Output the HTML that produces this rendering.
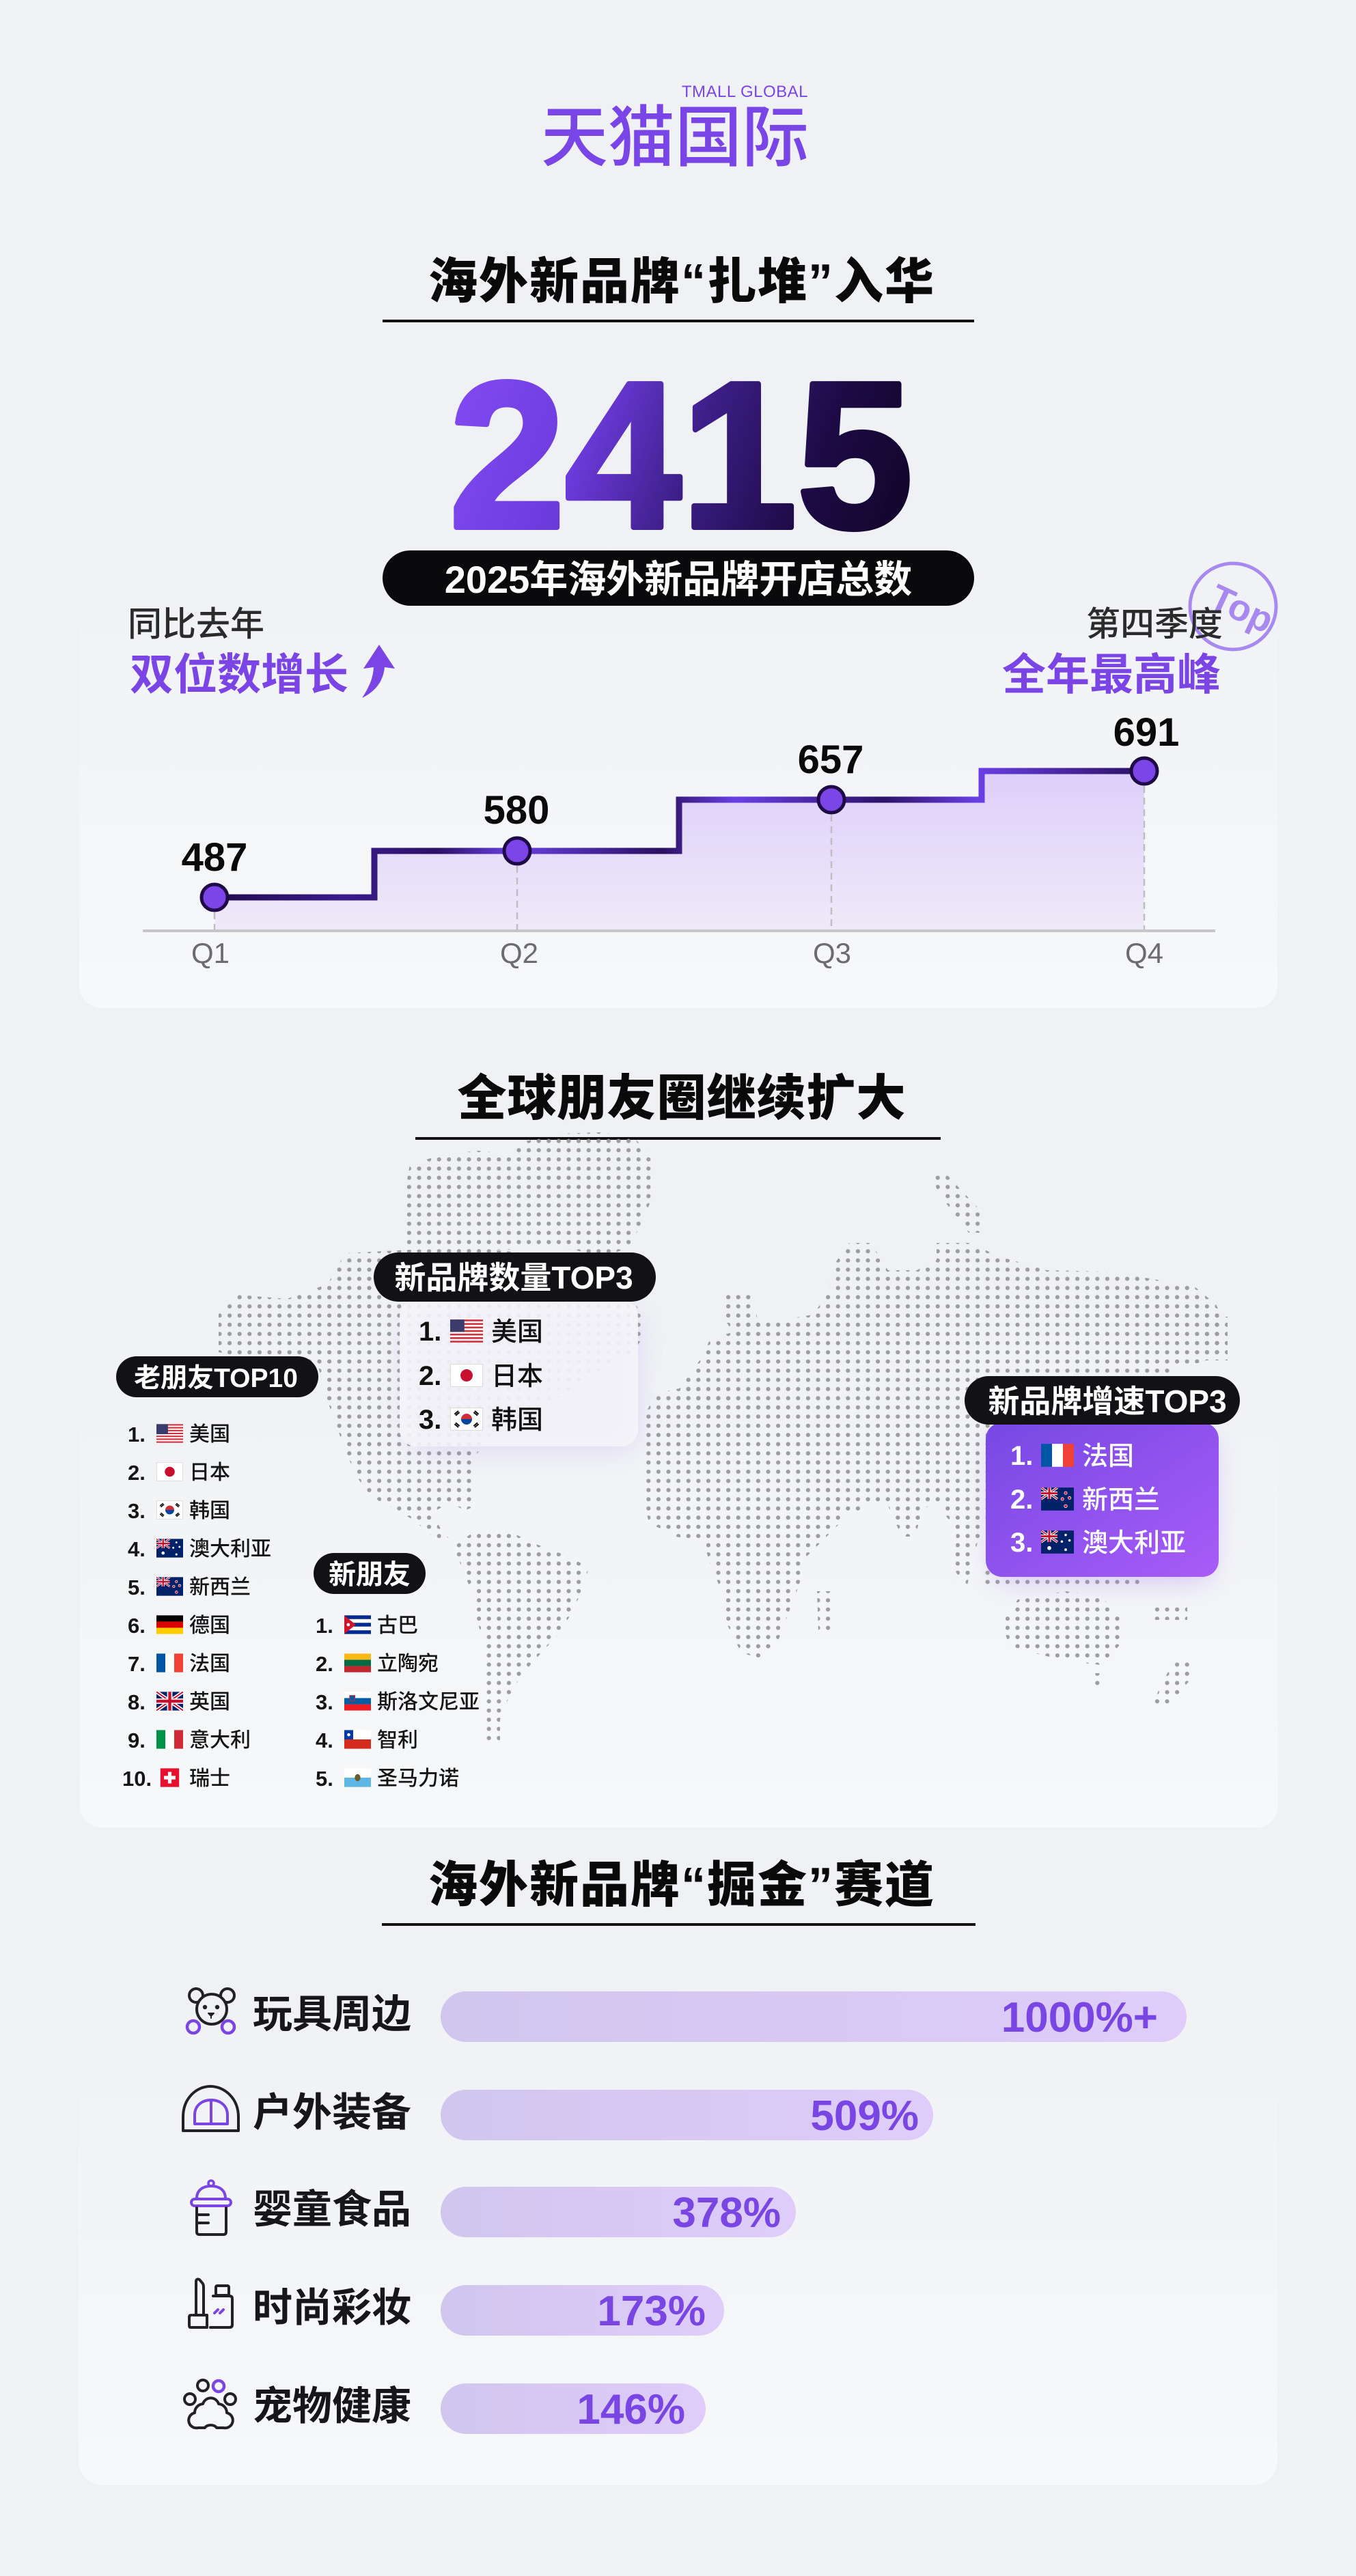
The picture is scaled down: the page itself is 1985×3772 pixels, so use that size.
<!DOCTYPE html>
<html><head><meta charset="utf-8">
<style>
html,body{margin:0;padding:0;background:#eff1f4;}
svg{display:block;}
.t{font-family:"Liberation Sans","Noto Sans CJK SC",sans-serif;}
</style></head>
<body>
<svg xmlns="http://www.w3.org/2000/svg" width="1985" height="3772" viewBox="0 0 1985 3772">
<defs>
  <linearGradient id="cardG" x1="0" y1="0" x2="0" y2="1">
    <stop offset="0" stop-color="#eff1f4"/><stop offset="1" stop-color="#f7f8fa"/>
  </linearGradient>
  <linearGradient id="numG" gradientUnits="userSpaceOnUse" x1="680" y1="560" x2="1320" y2="790">
    <stop offset="0" stop-color="#8049f0"/><stop offset="0.28" stop-color="#6c3bdc"/>
    <stop offset="0.52" stop-color="#3c1e86"/><stop offset="0.78" stop-color="#1d0a44"/>
    <stop offset="1" stop-color="#12052a"/>
  </linearGradient>
  <linearGradient id="areaG" x1="0" y1="1129" x2="0" y2="1363" gradientUnits="userSpaceOnUse">
    <stop offset="0" stop-color="#ddcffa"/><stop offset="1" stop-color="#efeaf9"/>
  </linearGradient>
  <linearGradient id="lineG" gradientUnits="userSpaceOnUse" x1="314" y1="0" x2="1675" y2="0">
    <stop offset="0" stop-color="#1f0b4c"/><stop offset="0.14" stop-color="#3a1c8c"/>
    <stop offset="0.24" stop-color="#2a1165"/><stop offset="0.32" stop-color="#6a40e6"/>
    <stop offset="0.48" stop-color="#2a1060"/><stop offset="0.56" stop-color="#6a40e6"/>
    <stop offset="0.72" stop-color="#2c1268"/><stop offset="0.82" stop-color="#6a40e6"/>
    <stop offset="1" stop-color="#2a1060"/>
  </linearGradient>
  <linearGradient id="purpG" x1="0" y1="0" x2="1" y2="1">
    <stop offset="0" stop-color="#7748e4"/><stop offset="1" stop-color="#a85cf7"/>
  </linearGradient>
  <linearGradient id="barG" x1="0" y1="0" x2="1" y2="0">
    <stop offset="0" stop-color="#d0c6ee"/><stop offset="1" stop-color="#dfccfa"/>
  </linearGradient>
  <filter id="blur" x="-40%" y="-40%" width="180%" height="180%"><feGaussianBlur stdDeviation="20"/></filter>
  <pattern id="dots" patternUnits="userSpaceOnUse" x="489.4" y="2067.6" width="14.6" height="13.45">
    <circle cx="7.3" cy="6.7" r="3.1" fill="#9d9d9f"/>
  </pattern>

  <!-- flags -->
  <symbol id="f-us" viewBox="0 0 30 21"><rect width="30" height="21" fill="#fff"/><g fill="#d22f3c"><rect y="0" width="30" height="1.62"/><rect y="3.23" width="30" height="1.62"/><rect y="6.46" width="30" height="1.62"/><rect y="9.69" width="30" height="1.62"/><rect y="12.92" width="30" height="1.62"/><rect y="16.15" width="30" height="1.62"/><rect y="19.38" width="30" height="1.62"/></g><rect width="13" height="11.3" fill="#3c3b6e"/></symbol>
  <symbol id="f-jp" viewBox="0 0 30 21"><rect x="0.3" y="0.3" width="29.4" height="20.4" fill="#fff" stroke="#d8d8d8" stroke-width="0.6"/><circle cx="15" cy="10.5" r="5.6" fill="#c8102e"/></symbol>
  <symbol id="f-kr" viewBox="0 0 30 21"><rect x="0.3" y="0.3" width="29.4" height="20.4" fill="#fff" stroke="#d8d8d8" stroke-width="0.6"/><path d="M10,10.5 A5,5 0 0 1 20,10.5 Z" fill="#cd2e3a"/><path d="M10,10.5 A5,5 0 0 0 20,10.5 Z" fill="#0047a0"/><g stroke="#111" stroke-width="1.3"><path d="M4,6 L7.5,3 M5,7.2 L8.5,4.2 M22.5,3 L26,6 M21.5,4.2 L25,7.2 M4,15 L7.5,18 M5,13.8 L8.5,16.8 M22.5,18 L26,15 M21.5,16.8 L25,13.8"/></g></symbol>
  <symbol id="f-au" viewBox="0 0 30 21"><rect width="30" height="21" fill="#012169"/><path d="M0,0 L15,10.5 M15,0 L0,10.5" stroke="#fff" stroke-width="2.2"/><path d="M0,0 L15,10.5 M15,0 L0,10.5" stroke="#c8102e" stroke-width="0.9"/><path d="M7.5,0 V10.5 M0,5.25 H15" stroke="#fff" stroke-width="3.2"/><path d="M7.5,0 V10.5 M0,5.25 H15" stroke="#c8102e" stroke-width="1.8"/><g fill="#fff"><circle cx="7.5" cy="16" r="1.8"/><circle cx="22.5" cy="4" r="1.1"/><circle cx="26" cy="9" r="1.1"/><circle cx="19" cy="10" r="1.1"/><circle cx="22.5" cy="17.5" r="1.2"/></g></symbol>
  <symbol id="f-nz" viewBox="0 0 30 21"><rect width="30" height="21" fill="#012169"/><path d="M0,0 L15,10.5 M15,0 L0,10.5" stroke="#fff" stroke-width="2.2"/><path d="M0,0 L15,10.5 M15,0 L0,10.5" stroke="#c8102e" stroke-width="0.9"/><path d="M7.5,0 V10.5 M0,5.25 H15" stroke="#fff" stroke-width="3.2"/><path d="M7.5,0 V10.5 M0,5.25 H15" stroke="#c8102e" stroke-width="1.8"/><g fill="#c8102e" stroke="#fff" stroke-width="0.5"><circle cx="22.5" cy="5" r="1.3"/><circle cx="26" cy="9.5" r="1.3"/><circle cx="19.5" cy="10.5" r="1.3"/><circle cx="22.5" cy="17" r="1.4"/></g></symbol>
  <symbol id="f-de" viewBox="0 0 30 21"><rect width="30" height="7" fill="#000"/><rect y="7" width="30" height="7" fill="#dd0000"/><rect y="14" width="30" height="7" fill="#ffce00"/></symbol>
  <symbol id="f-fr" viewBox="0 0 30 21"><rect width="10" height="21" fill="#0055a4"/><rect x="10" width="10" height="21" fill="#fff"/><rect x="20" width="10" height="21" fill="#ef4135"/></symbol>
  <symbol id="f-gb" viewBox="0 0 30 21"><rect width="30" height="21" fill="#012169"/><path d="M0,0 L30,21 M30,0 L0,21" stroke="#fff" stroke-width="4"/><path d="M0,0 L30,21 M30,0 L0,21" stroke="#c8102e" stroke-width="1.5"/><path d="M15,0 V21 M0,10.5 H30" stroke="#fff" stroke-width="6"/><path d="M15,0 V21 M0,10.5 H30" stroke="#c8102e" stroke-width="3.4"/></symbol>
  <symbol id="f-it" viewBox="0 0 30 21"><rect width="10" height="21" fill="#009246"/><rect x="10" width="10" height="21" fill="#fff"/><rect x="20" width="10" height="21" fill="#ce2b37"/></symbol>
  <symbol id="f-ch" viewBox="0 0 30 21"><rect x="4.5" y="0" width="21" height="21" fill="#e8112d"/><rect x="13" y="4" width="4" height="13" fill="#fff"/><rect x="8.5" y="8.5" width="13" height="4" fill="#fff"/></symbol>
  <symbol id="f-cu" viewBox="0 0 30 21"><rect width="30" height="21" fill="#fff"/><g fill="#002a8f"><rect y="0" width="30" height="4.2"/><rect y="8.4" width="30" height="4.2"/><rect y="16.8" width="30" height="4.2"/></g><path d="M0,0 L13,10.5 L0,21 Z" fill="#cf142b"/><circle cx="4.5" cy="10.5" r="1.8" fill="#fff"/></symbol>
  <symbol id="f-lt" viewBox="0 0 30 21"><rect width="30" height="7" fill="#fdb913"/><rect y="7" width="30" height="7" fill="#006a44"/><rect y="14" width="30" height="7" fill="#c1272d"/></symbol>
  <symbol id="f-si" viewBox="0 0 30 21"><rect width="30" height="7" fill="#fff"/><rect y="7" width="30" height="7" fill="#005da4"/><rect y="14" width="30" height="7" fill="#ed1c24"/><path d="M6,4 H12 V9 Q9,12 6,9 Z" fill="#005da4" stroke="#ed1c24" stroke-width="0.7"/></symbol>
  <symbol id="f-cl" viewBox="0 0 30 21"><rect width="30" height="10.5" fill="#fff"/><rect y="10.5" width="30" height="10.5" fill="#d52b1e"/><rect width="10" height="10.5" fill="#0039a6"/><circle cx="5" cy="5.25" r="1.8" fill="#fff"/></symbol>
  <symbol id="f-sm" viewBox="0 0 30 21"><rect width="30" height="10.5" fill="#fff"/><rect y="10.5" width="30" height="10.5" fill="#5eb6e4"/><ellipse cx="15" cy="10.5" rx="3.2" ry="4" fill="#6b5a2a"/></symbol>
</defs>

<rect width="1985" height="3772" fill="#eff1f4"/>

<!-- ========== HEADER ========== -->
<text class="t" x="1183" y="142" text-anchor="end" font-size="24" fill="#7a45e6" letter-spacing="0.5">TMALL GLOBAL</text>
<text class="t" x="988" y="235" text-anchor="middle" font-size="98" font-weight="500" fill="#7a45e6">天猫国际</text>

<text class="t" x="998" y="437" text-anchor="middle" font-size="72" font-weight="900" fill="#0a0a0a" letter-spacing="2">海外新品牌“扎堆”入华</text>
<rect x="560" y="468" width="866" height="4" fill="#111"/>

<!-- card 1 -->
<rect x="116" y="755" width="1754" height="721" rx="32" fill="url(#cardG)"/>

<text x="997" y="772" text-anchor="middle" font-family="'Liberation Sans',sans-serif" font-weight="700" font-size="305" fill="url(#numG)" stroke="url(#numG)" stroke-width="8" stroke-linejoin="round">2415</text>

<rect x="560" y="806" width="866" height="81" rx="40.5" fill="#0a0a0c"/>
<text class="t" x="993" y="868" text-anchor="middle" font-size="56" font-weight="700" fill="#fff">2025年海外新品牌开店总数</text>

<text class="t" x="187" y="931" font-size="50" font-weight="500" fill="#2b2b2b">同比去年</text>
<text class="t" x="190" y="1010" font-size="64" font-weight="700" fill="#7b45e6">双位数增长</text>
<path d="M555,944 L578,979 L563,977 C561,996 552,1011 530,1022 C541,1005 546,993 547,977 L532,979 Z" fill="#7b45e6"/>

<!-- Top stamp -->
<g opacity="0.85">
  <circle cx="1805" cy="888" r="63" fill="none" stroke="#9b77ee" stroke-width="5"/>
  <text class="t" transform="translate(1810,908) rotate(25)" text-anchor="middle" font-size="54" font-weight="700" fill="#9b77ee">Top</text>
</g>
<text class="t" x="1790" y="931" text-anchor="end" font-size="50" font-weight="500" fill="#2b2b2b">第四季度</text>
<text class="t" x="1787" y="1010" text-anchor="end" font-size="64" font-weight="700" fill="#7b45e6">全年最高峰</text>

<!-- chart -->
<path d="M314,1314 H548 V1246 H994 V1171 H1437 V1129 H1675 V1363 H314 Z" fill="url(#areaG)"/>
<line x1="209" y1="1363" x2="1779" y2="1363" stroke="#c5c5ca" stroke-width="4"/>
<g stroke="#bdbdc2" stroke-width="2.5" stroke-dasharray="10 7">
  <line x1="314" y1="1336" x2="314" y2="1361"/>
  <line x1="757" y1="1268" x2="757" y2="1361"/>
  <line x1="1217" y1="1193" x2="1217" y2="1361"/>
  <line x1="1675" y1="1151" x2="1675" y2="1361"/>
</g>
<path d="M314,1314 H548 V1246 H994 V1171 H1437 V1129 H1675" fill="none" stroke="url(#lineG)" stroke-width="9"/>
<g fill="#7b45e8" stroke="#1e0b46" stroke-width="5">
  <circle cx="314" cy="1314" r="19"/>
  <circle cx="757" cy="1246" r="19"/>
  <circle cx="1217" cy="1171" r="19"/>
  <circle cx="1675" cy="1129" r="19"/>
</g>
<g font-family="'Liberation Sans',sans-serif" font-weight="700" font-size="58" fill="#0a0a0a" text-anchor="middle">
  <text x="314" y="1275">487</text>
  <text x="756" y="1206">580</text>
  <text x="1216" y="1132">657</text>
  <text x="1678" y="1092">691</text>
</g>
<g font-family="'Liberation Sans',sans-serif" font-size="42" fill="#6b6b70" text-anchor="middle">
  <text x="308" y="1410">Q1</text>
  <text x="760" y="1410">Q2</text>
  <text x="1218" y="1410">Q3</text>
  <text x="1675" y="1410">Q4</text>
</g>

<!-- ========== MAP SECTION ========== -->
<text class="t" x="998" y="1633" text-anchor="middle" font-size="72" font-weight="900" fill="#0a0a0a" letter-spacing="1">全球朋友圈继续扩大</text>
<rect x="608" y="1665" width="769" height="4" fill="#111"/>

<rect x="117" y="1933" width="1754" height="743" rx="32" fill="url(#cardG)"/>

<g fill="url(#dots)">
  <polygon points="600,1705 650,1690 700,1685 745,1690 765,1672 820,1660 880,1658 930,1668 960,1700 958,1745 940,1790 920,1828 880,1840 840,1830 790,1826 745,1830 700,1830 640,1830 596,1822 590,1760"/>
  <polygon points="350,1896 420,1902 480,1880 505,1835 600,1830 700,1828 800,1838 870,1858 925,1895 948,1950 922,1985 870,2010 820,2045 760,2080 712,2110 690,2140 696,2205 680,2212 660,2200 632,2215 646,2240 662,2258 640,2256 606,2226 580,2211 555,2198 538,2185 522,2162 508,2130 492,2087 479,2050 466,2002 430,1990 370,1990 320,1980 320,1924"/>
  <polygon points="692,2244 745,2242 782,2260 830,2278 862,2295 852,2330 832,2370 816,2395 800,2412 777,2437 758,2462 743,2490 732,2518 732,2550 706,2550 706,2480 706,2400 698,2370 690,2330 678,2300 664,2265"/>
  <polygon points="1000,2070 990,2040 1010,2010 1026,1990 1040,1960 1075,1950 1100,1930 1160,1930 1190,1925 1215,1890 1215,1860 1243,1820 1275,1820 1300,1860 1342,1860 1371,1845 1371,1820 1420,1820 1463,1840 1533,1860 1623,1862 1700,1875 1750,1885 1780,1910 1790,1930 1795,1975 1760,1995 1725,2000 1700,2030 1680,2070 1660,2110 1620,2150 1570,2170 1520,2185 1480,2200 1445,2230 1430,2262 1415,2325 1398,2300 1400,2240 1370,2200 1350,2210 1340,2250 1320,2250 1300,2205 1270,2200 1250,2220 1220,2200 1190,2160 1170,2100 1140,2070 1100,2068 1060,2070 1030,2075"/>
  <polygon points="960,2040 1010,2030 1080,2050 1140,2060 1170,2100 1200,2140 1225,2180 1235,2225 1210,2250 1180,2280 1170,2320 1155,2360 1140,2400 1112,2428 1085,2420 1065,2380 1056,2330 1040,2290 1030,2260 990,2250 950,2230 938,2180 940,2120 945,2070"/>
  <polygon points="1060,1895 1100,1893 1112,1945 1078,1958 1056,1925"/>
  <polygon points="1366,1720 1386,1720 1442,1780 1442,1805 1418,1805 1372,1745"/>
  <polygon points="1196,2330 1218,2330 1222,2388 1198,2390"/>
  <polygon points="1440,2298 1672,2298 1672,2324 1440,2324"/>
  <polygon points="1490,2342 1560,2330 1612,2338 1642,2368 1638,2410 1612,2438 1560,2432 1520,2422 1478,2410 1466,2378"/>
  <polygon points="1598,2450 1616,2450 1616,2470 1598,2470"/>
  <polygon points="1722,2428 1742,2428 1742,2460 1712,2496 1688,2496 1700,2465"/>
  <polygon points="1756,1928 1797,1928 1797,1992 1754,1992"/>
  <polygon points="1688,2350 1738,2350 1738,2372 1688,2372"/>
</g>

<!-- new brand count TOP3 -->
<rect x="600" y="1920" width="330" height="200" rx="24" fill="#a27ef0" opacity="0.28" filter="url(#blur)"/>
<rect x="585" y="1904" width="349" height="214" rx="24" fill="#f4f4f8" fill-opacity="0.9"/>
<rect x="547" y="1834" width="413" height="72" rx="36" fill="#111116"/>
<text class="t" x="752" y="1887" text-anchor="middle" font-size="46" font-weight="700" fill="#fff">新品牌数量TOP3</text>
<g class="t" font-size="40" font-weight="700" fill="#111">
  <text x="613" y="1963">1.</text>
  <text x="613" y="2028">2.</text>
  <text x="613" y="2092">3.</text>
</g>
<use href="#f-us" x="659" y="1932" width="48" height="34"/>
<use href="#f-jp" x="659" y="1997" width="48" height="34"/>
<use href="#f-kr" x="659" y="2061" width="48" height="34"/>
<g class="t" font-size="38" font-weight="500" fill="#111">
  <text x="719" y="1963">美国</text>
  <text x="719" y="2028">日本</text>
  <text x="719" y="2092">韩国</text>
</g>

<!-- old friends TOP10 -->
<rect x="170" y="1986" width="296" height="60" rx="30" fill="#111116"/>
<text class="t" x="316" y="2031" text-anchor="middle" font-size="39" font-weight="700" fill="#fff">老朋友TOP10</text>
<g class="t" font-size="31" font-weight="600" fill="#151515">
  <text x="187" y="2111">1.</text>
  <text x="187" y="2167">2.</text>
  <text x="187" y="2223">3.</text>
  <text x="187" y="2279">4.</text>
  <text x="187" y="2335">5.</text>
  <text x="187" y="2391">6.</text>
  <text x="187" y="2447">7.</text>
  <text x="187" y="2503">8.</text>
  <text x="187" y="2559">9.</text>
  <text x="179" y="2615">10.</text>
</g>
<use href="#f-us" x="229" y="2085" width="39" height="28"/>
<use href="#f-jp" x="229" y="2141" width="39" height="28"/>
<use href="#f-kr" x="229" y="2197" width="39" height="28"/>
<use href="#f-au" x="229" y="2253" width="39" height="28"/>
<use href="#f-nz" x="229" y="2309" width="39" height="28"/>
<use href="#f-de" x="229" y="2365" width="39" height="28"/>
<use href="#f-fr" x="229" y="2421" width="39" height="28"/>
<use href="#f-gb" x="229" y="2477" width="39" height="28"/>
<use href="#f-it" x="229" y="2533" width="39" height="28"/>
<use href="#f-ch" x="229" y="2589" width="39" height="28"/>
<g class="t" font-size="30" font-weight="500" fill="#151515">
  <text x="277" y="2110">美国</text>
  <text x="277" y="2166">日本</text>
  <text x="277" y="2222">韩国</text>
  <text x="277" y="2278">澳大利亚</text>
  <text x="277" y="2334">新西兰</text>
  <text x="277" y="2390">德国</text>
  <text x="277" y="2446">法国</text>
  <text x="277" y="2502">英国</text>
  <text x="277" y="2558">意大利</text>
  <text x="277" y="2614">瑞士</text>
</g>

<!-- new friends -->
<rect x="459" y="2274" width="164" height="60" rx="30" fill="#111116"/>
<text class="t" x="541" y="2319" text-anchor="middle" font-size="40" font-weight="700" fill="#fff">新朋友</text>
<g class="t" font-size="31" font-weight="600" fill="#151515">
  <text x="462" y="2391">1.</text>
  <text x="462" y="2447">2.</text>
  <text x="462" y="2503">3.</text>
  <text x="462" y="2559">4.</text>
  <text x="462" y="2615">5.</text>
</g>
<use href="#f-cu" x="504" y="2365" width="39" height="28"/>
<use href="#f-lt" x="504" y="2421" width="39" height="28"/>
<use href="#f-si" x="504" y="2477" width="39" height="28"/>
<use href="#f-cl" x="504" y="2533" width="39" height="28"/>
<use href="#f-sm" x="504" y="2589" width="39" height="28"/>
<g class="t" font-size="30" font-weight="500" fill="#151515">
  <text x="552" y="2390">古巴</text>
  <text x="552" y="2446">立陶宛</text>
  <text x="552" y="2502">斯洛文尼亚</text>
  <text x="552" y="2558">智利</text>
  <text x="552" y="2614">圣马力诺</text>
</g>

<!-- growth TOP3 -->
<rect x="1455" y="2100" width="320" height="215" rx="24" fill="#9a6cf0" opacity="0.35" filter="url(#blur)"/>
<rect x="1443" y="2083" width="341" height="226" rx="24" fill="url(#purpG)"/>
<rect x="1412" y="2015" width="403" height="71" rx="35.5" fill="#111116"/>
<text class="t" x="1621" y="2068" text-anchor="middle" font-size="46" font-weight="700" fill="#fff">新品牌增速TOP3</text>
<g class="t" font-size="40" font-weight="700" fill="#fff">
  <text x="1479" y="2145">1.</text>
  <text x="1479" y="2209">2.</text>
  <text x="1479" y="2272">3.</text>
</g>
<use href="#f-fr" x="1524" y="2114" width="48" height="34"/>
<use href="#f-nz" x="1524" y="2178" width="48" height="34"/>
<use href="#f-au" x="1524" y="2241" width="48" height="34"/>
<g class="t" font-size="38" font-weight="500" fill="#fff">
  <text x="1584" y="2145">法国</text>
  <text x="1584" y="2209">新西兰</text>
  <text x="1584" y="2272">澳大利亚</text>
</g>

<!-- ========== BARS SECTION ========== -->
<text class="t" x="998" y="2785" text-anchor="middle" font-size="72" font-weight="900" fill="#0a0a0a" letter-spacing="2">海外新品牌“掘金”赛道</text>
<rect x="559" y="2816" width="869" height="4" fill="#111"/>

<rect x="115" y="2900" width="1755" height="739" rx="36" fill="url(#cardG)"/>

<g fill="url(#barG)">
  <rect x="645" y="2916" width="1092" height="74" rx="37"/>
  <rect x="645" y="3060" width="721" height="74" rx="37"/>
  <rect x="645" y="3202" width="520" height="74" rx="37"/>
  <rect x="645" y="3346" width="415" height="74" rx="37"/>
  <rect x="645" y="3490" width="388" height="74" rx="37"/>
</g>
<g class="t" font-size="62" font-weight="700" fill="#7a46e3" text-anchor="end">
  <text x="1695" y="2975">1000%+</text>
  <text x="1345" y="3119">509%</text>
  <text x="1143" y="3261">378%</text>
  <text x="1033" y="3405">173%</text>
  <text x="1003" y="3549">146%</text>
</g>
<g class="t" font-size="58" font-weight="700" fill="#17171b">
  <text x="370" y="2969">玩具周边</text>
  <text x="370" y="3113">户外装备</text>
  <text x="370" y="3255">婴童食品</text>
  <text x="370" y="3399">时尚彩妆</text>
  <text x="370" y="3543">宠物健康</text>
</g>

<!-- icons -->
<g fill="none" stroke-linecap="round" stroke-linejoin="round">
  <!-- bear -->
  <circle cx="287" cy="2922" r="10" stroke="#222226" stroke-width="4"/>
  <circle cx="333" cy="2922" r="10" stroke="#222226" stroke-width="4"/>
  <circle cx="310" cy="2942" r="22" stroke="#222226" stroke-width="4" fill="#eff1f4"/>
  <circle cx="300" cy="2939" r="3.2" fill="#222226"/>
  <circle cx="318" cy="2939" r="3.2" fill="#222226"/>
  <path d="M305,2948 L313,2948 L309,2952 Z M309,2952 V2955" stroke="#222226" stroke-width="2" fill="#222226"/>
  <circle cx="283" cy="2968" r="9" stroke="#7b45e6" stroke-width="4.5" fill="#eff1f4"/>
  <circle cx="334" cy="2968" r="9" stroke="#7b45e6" stroke-width="4.5" fill="#eff1f4"/>
  <!-- tent -->
  <path d="M268,3120 L268,3100 C268,3072 288,3055 308,3055 C328,3055 349,3072 349,3100 L349,3120 Z" stroke="#222226" stroke-width="4"/>
  <path d="M285,3110 L285,3097 C285,3083 296,3075 309,3075 C322,3075 333,3083 333,3097 L333,3110 Z M309,3075 L309,3110" stroke="#7b45e6" stroke-width="4"/>
  <!-- bottle -->
  <circle cx="309" cy="3197" r="4" stroke="#7b45e6" stroke-width="3.5"/>
  <path d="M288,3219 C288,3207 297,3201 309,3201 C321,3201 330,3207 330,3219" stroke="#7b45e6" stroke-width="4"/>
  <rect x="280" y="3220" width="58" height="10" rx="5" stroke="#7b45e6" stroke-width="4"/>
  <path d="M288,3233 L288,3268 Q288,3272 292,3272 L327,3272 Q331,3272 331,3268 L331,3233" stroke="#222226" stroke-width="4"/>
  <path d="M288,3243 L305,3243 M288,3255 L305,3255" stroke="#222226" stroke-width="4"/>
  <!-- lipstick -->
  <path d="M287,3390 L287,3340 Q288,3336 292,3338 L297,3344 Q298,3346 298,3349 L298,3390" stroke="#222226" stroke-width="4"/>
  <path d="M283,3390 L303,3390 L303,3408 L279,3408 Q277,3408 277,3405 L277,3393 Q277,3390 280,3390" stroke="#222226" stroke-width="4"/>
  <rect x="316" y="3347" width="19" height="14" rx="2" stroke="#222226" stroke-width="4"/>
  <path d="M312,3362 L336,3362 Q340,3362 340,3366 L340,3404 Q340,3408 336,3408 L308,3408" stroke="#222226" stroke-width="4"/>
  <path d="M314,3387 L319,3382 M322,3387 L327,3382" stroke="#7b45e6" stroke-width="4"/>
  <!-- paw -->
  <circle cx="278" cy="3513" r="8" stroke="#222226" stroke-width="4"/>
  <circle cx="297" cy="3493" r="8" stroke="#222226" stroke-width="4"/>
  <circle cx="320" cy="3494" r="8" stroke="#7b45e6" stroke-width="4.5"/>
  <circle cx="337" cy="3513" r="8" stroke="#222226" stroke-width="4"/>
  <path d="M300,3555 L290,3555 A11,11 0 0 1 285,3533 A13,13 0 0 1 297,3520 A12,12 0 0 1 320,3520 A13,13 0 0 1 332,3533 A11,11 0 0 1 327,3555 L317,3555 A9,6 0 0 0 300,3555 Z" stroke="#222226" stroke-width="4"/>
</g>
</svg>
</body></html>
